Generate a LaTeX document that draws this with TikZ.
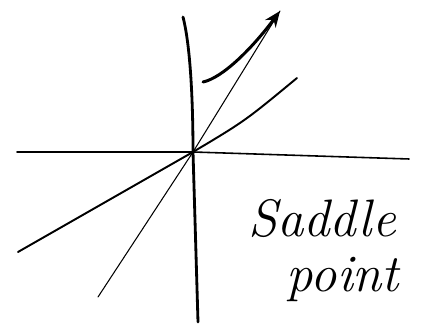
\documentclass[tikz,border=0pt]{standalone}
\usepackage{tikz}
\usetikzlibrary{arrows.meta}
\usepackage{xcolor}

\begin{document}
\begin{tikzpicture}[>={Stealth[length=3.2mm,width=2.6mm]},line cap=round,
  axis/.style={black,line width=0.9pt},
  vaxis/.style={black,line width=1.6pt},
  ray/.style={black,line width=1.1pt},
  thinray/.style={black,line width=0.6pt},
  flow/.style={black,line width=1.7pt},
  label/.style={font=\fontsize{30}{36}\selectfont\itshape,inner sep=0pt}]
\useasboundingbox (0,0) rectangle (8.42,6.56);
% origin and ends
\coordinate (o) at (3.86,3.52);
\coordinate (vtop) at (3.66,6.22);
\coordinate (vbot) at (3.96,0.12);
\coordinate (hl) at (0.34,3.52);
\coordinate (hr) at (8.18,3.38);
\coordinate (sl) at (0.36,1.52);
\coordinate (su) at (5.94,5.00);
\coordinate (tl) at (1.96,0.62);
\coordinate (tip) at (5.60,6.34);
\coordinate (fs) at (4.06,4.92);
% axes
\draw[axis] (hl) -- (o) -- (hr);
\draw[vaxis] (vtop) .. controls (3.82,5.6) and (3.86,4.4) .. (o) -- (vbot);
% the two lines through the origin
\draw[ray] (sl) -- (o) .. controls (4.9,4.14) .. (su);
\draw[thinray] (tl) -- (o) -- (tip);
% flow arrow
\draw[flow,->] (fs) .. controls (4.45,5.0) and (5.05,5.6) .. (tip);
% text
\node[label] (saddle) at (6.44,2.18) {Saddle};
\node[label] (point) at (6.86,0.98) {point};
\end{tikzpicture}
\end{document}
